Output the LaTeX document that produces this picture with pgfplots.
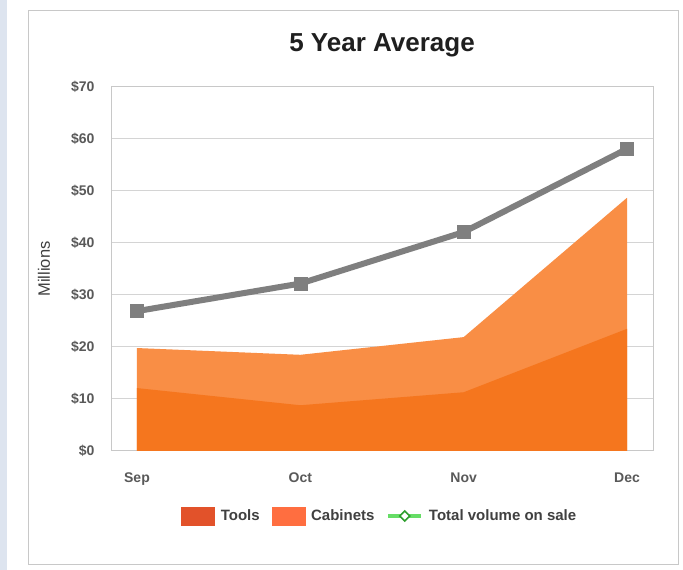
\documentclass[border=0pt]{standalone}
\usepackage{pgfplots}
\pgfplotsset{compat=1.18}
\usepackage{pgfplotstable}
\usepackage{fontspec}
\setmainfont{Liberation Sans}

\definecolor{toolsarea}{HTML}{F5761E}
\definecolor{cabarea}{HTML}{F98E45}
\definecolor{toolsleg}{HTML}{E2522A}
\definecolor{cableg}{HTML}{FF6E40}
\definecolor{totline}{HTML}{7F7F7F}
\definecolor{legline}{HTML}{66DD66}
\definecolor{legmark}{HTML}{2E9E2E}
\definecolor{gridc}{HTML}{D4D4D4}
\definecolor{framec}{HTML}{C8C8C8}
\definecolor{tickc}{HTML}{595959}
\definecolor{strip}{HTML}{DDE4EF}

% month index, Tools, Cabinets (millions)
\pgfplotstableread{
x tools cab
0 12.1 7.7
1 8.8  9.7
2 11.3 10.6
3 23.5 25.2
}\sales

\pgfplotstableread{
x total
0 26.9
1 32.2
2 42.1
3 58.1
}\total

\begin{document}
\begin{tikzpicture}
\path[use as bounding box] (0,0) rectangle (683bp,570bp);
\fill[strip] (0,0) rectangle (7bp,570bp);
\draw[framec, line width=1bp, fill=white] (28bp,5bp) rectangle (678bp,559bp);

\begin{axis}[
  at={(111bp,119bp)}, anchor=south west,
  scale only axis, width=542bp, height=364bp,
  xmin=-0.159, xmax=3.159,
  ymin=0, ymax=70,
  xtick={0,1,2,3},
  xticklabels={Sep,Oct,Nov,Dec},
  ytick={0,10,20,30,40,50,60,70},
  yticklabels={\$0,\$10,\$20,\$30,\$40,\$50,\$60,\$70},
  major tick length=0pt,
  ymajorgrids,
  major grid style={draw=gridc, line width=1bp},
  axis line style={draw=framec, line width=1bp},
  /pgf/number format/assume math mode=true,
  ticklabel style={font=\fontsize{14bp}{16bp}\selectfont\bfseries, text=tickc},
  yticklabel style={xshift=-13bp},
  xticklabel style={yshift=-18bp},
  title={5 Year Average},
  title style={at={(axis description cs:0.5,1)}, anchor=center, yshift=36bp,
    font=\fontsize{26bp}{30bp}\selectfont\bfseries, text=black!88},
  ylabel={Millions},
  ylabel style={at={(axis description cs:-0.1236,0.5)}, anchor=center,
    font=\fontsize{16.5bp}{18bp}\selectfont, text=black!75},
  legend columns=3,
  legend style={at={(axis description cs:0.496,-0.1786)}, anchor=center,
    draw=none, fill=none,
    font=\fontsize{15bp}{17bp}\selectfont\bfseries, text=black!75,
    /tikz/every odd column/.append style={column sep=4bp},
    /tikz/every even column/.append style={column sep=10bp}},
]
% Cabinets stacked on Tools
\addplot[draw=none, fill=cabarea, forget plot]
  table[x=x, y expr=\thisrow{tools}+\thisrow{cab}] {\sales} \closedcycle;
\addplot[draw=none, fill=toolsarea, forget plot]
  table[x=x, y=tools] {\sales} \closedcycle;
% Total volume on sale
\addplot[totline, line width=6bp, mark=square*, mark size=6.5bp,
  mark options={line width=0.5bp}, forget plot]
  table[x=x, y=total] {\total};

\addlegendimage{legend image code/.code={\fill[toolsleg] (0bp,-9bp) rectangle (33bp,9bp);}}
\addlegendentry{Tools}
\addlegendimage{legend image code/.code={\fill[cableg] (0bp,-9bp) rectangle (33bp,9bp);}}
\addlegendentry{Cabinets}
\addlegendimage{legend image code/.code={
  \draw[legline, line width=3.5bp] (0bp,0bp) -- (33bp,0bp);
  \draw[legmark, line width=1.5bp, fill=white] (16.5bp,-5bp) -- (21.5bp,0bp) -- (16.5bp,5bp) -- (11.5bp,0bp) -- cycle;}}
\addlegendentry{Total volume on sale}
\end{axis}
\end{tikzpicture}
\end{document}
